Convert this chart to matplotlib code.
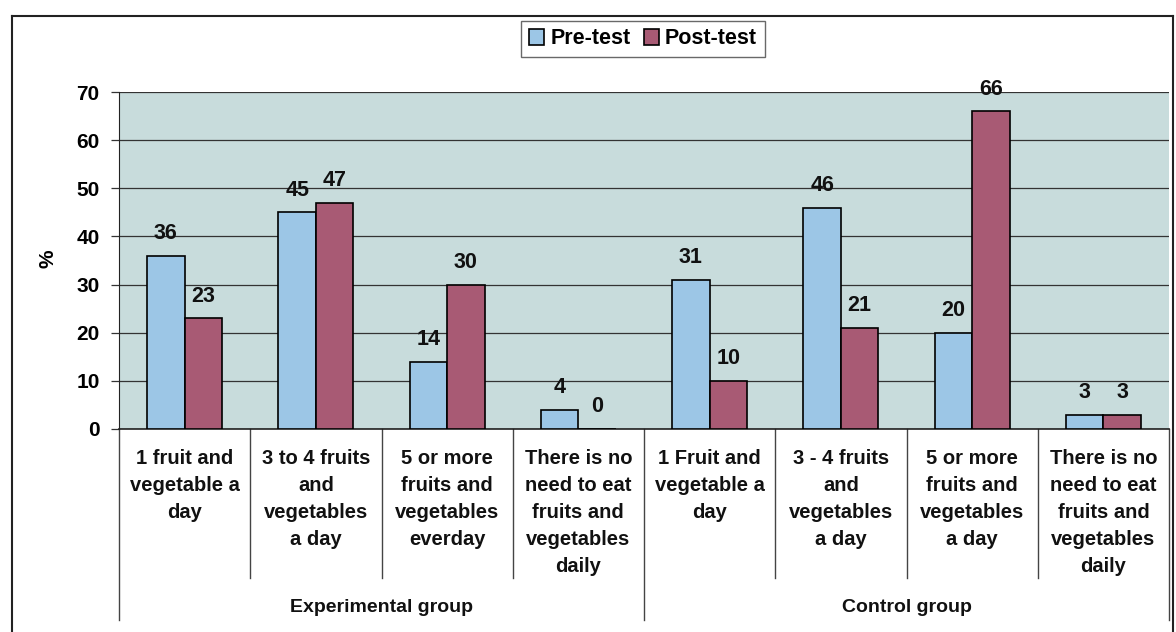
import numpy as np
import matplotlib
matplotlib.use("Agg")
import matplotlib.pyplot as plt
from matplotlib.lines import Line2D
from matplotlib.patches import Patch

plt.rcParams['font.family'] = ['Liberation Sans', 'DejaVu Sans']
plt.rcParams['font.weight'] = 'bold'

# data
categories = [
    "1 fruit and\nvegetable a\nday",
    "3 to 4 fruits\nand\nvegetables\na day",
    "5 or more\nfruits and\nvegetables\neverday",
    "There is no\nneed to eat\nfruits and\nvegetables\ndaily",
    "1 Fruit and\nvegetable a\nday",
    "3 - 4 fruits\nand\nvegetables\na day",
    "5 or more\nfruits and\nvegetables\na day",
    "There is no\nneed to eat\nfruits and\nvegetables\ndaily",
]
groups = ["Experimental group", "Control group"]
pre_test = [36, 45, 14, 4, 31, 46, 20, 3]
post_test = [23, 47, 30, 0, 10, 21, 66, 3]
series_names = ["Pre-test", "Post-test"]

PRE_C = "#9cc6e6"
POST_C = "#a85a74"
BG_C = "#c8dcdc"

W, H = 1176, 632
fig = plt.figure(figsize=(W / 100, H / 100), dpi=100)
fig.patch.set_facecolor("white")

# plot area in pixels: x 119..1169, y 92..429
ax = fig.add_axes([119 / W, 1 - 429 / H, (1169 - 119) / W, (429 - 92) / H])
ax.set_facecolor(BG_C)

x = np.arange(len(categories))
bw = 1 / 3.5
b1 = ax.bar(x - bw / 2, pre_test, bw, color=PRE_C, edgecolor="black", linewidth=1.2, zorder=3)
b2 = ax.bar(x + bw / 2, post_test, bw, color=POST_C, edgecolor="black", linewidth=1.2, zorder=3)

for bars, vals in ((b1, pre_test), (b2, post_test)):
    for r, v in zip(bars, vals):
        ax.annotate(str(v), (r.get_x() + r.get_width() / 2, v), xytext=(0, 16),
                    textcoords="offset points", ha="center", va="center",
                    fontsize=15.5, fontweight="bold", color="#111111", zorder=4)

ax.set_xlim(-0.5, len(categories) - 0.5)
ax.set_ylim(0, 70)
ax.set_yticks(range(0, 71, 10))
ax.yaxis.grid(True, color="#333333", linewidth=0.9, zorder=1)
ax.set_axisbelow(True)
ax.tick_params(axis="y", length=6, width=0.9, pad=8, labelsize=15, color="#333333")
for lbl in ax.get_yticklabels():
    lbl.set_fontweight("bold")
ax.set_xticks([])
for s in ("top", "right"):
    ax.spines[s].set_visible(False)
ax.spines["left"].set_color("#222222")
ax.spines["bottom"].set_color("#222222")
ax.spines["bottom"].set_linewidth(1.2)

# category labels and separators below the axis
tr = ax.get_xaxis_transform()
ph = 429 - 92
def ay(py):
    return (429 - py) / ph

for i, lab in enumerate(categories):
    ax.text(i, ay(449), lab, transform=tr, ha="center", va="top",
            fontsize=14.5, fontweight="bold", linespacing=1.54, color="#111111")
for i in range(len(categories) + 1):
    is_group = i in (0, 4, 8)
    y_end = ay(620) if is_group else ay(578)
    ax.add_line(Line2D([i - 0.5, i - 0.5], [0, y_end], transform=tr, color="#444444",
                       linewidth=1.0, clip_on=False))
for g, name in enumerate(groups):
    ax.text(g * 4 + 1.5, ay(608), name, transform=tr, ha="center", va="center",
            fontsize=14, fontweight="bold", color="#111111")

fig.text(48 / W, 1 - 259 / H, "%", rotation=90, ha="center", va="center",
         fontsize=15, fontweight="bold")

# legend
handles = [Patch(facecolor=PRE_C, edgecolor="black", linewidth=1.2),
           Patch(facecolor=POST_C, edgecolor="black", linewidth=1.2)]
leg = fig.legend(handles, series_names, loc="center", bbox_to_anchor=(643 / W, 1 - 39 / H),
                 ncol=2, frameon=True, fancybox=False, edgecolor="#444444",
                 prop={"weight": "bold", "size": 15.5}, handlelength=0.7, handleheight=0.7,
                 handletextpad=0.3, columnspacing=0.6, borderpad=0.35, borderaxespad=0)
leg.get_frame().set_linewidth(1.0)

# outer chart frame
for xs, ys in (([12, 12], [16, H + 5]), ([12, 1173], [16, 16]), ([1173, 1173], [16, H + 5])):
    fig.add_artist(Line2D([v / W for v in xs], [1 - v / H for v in ys], color="#222222",
                          linewidth=1.5, transform=fig.transFigure))

fig.savefig("out.png", dpi=100)
